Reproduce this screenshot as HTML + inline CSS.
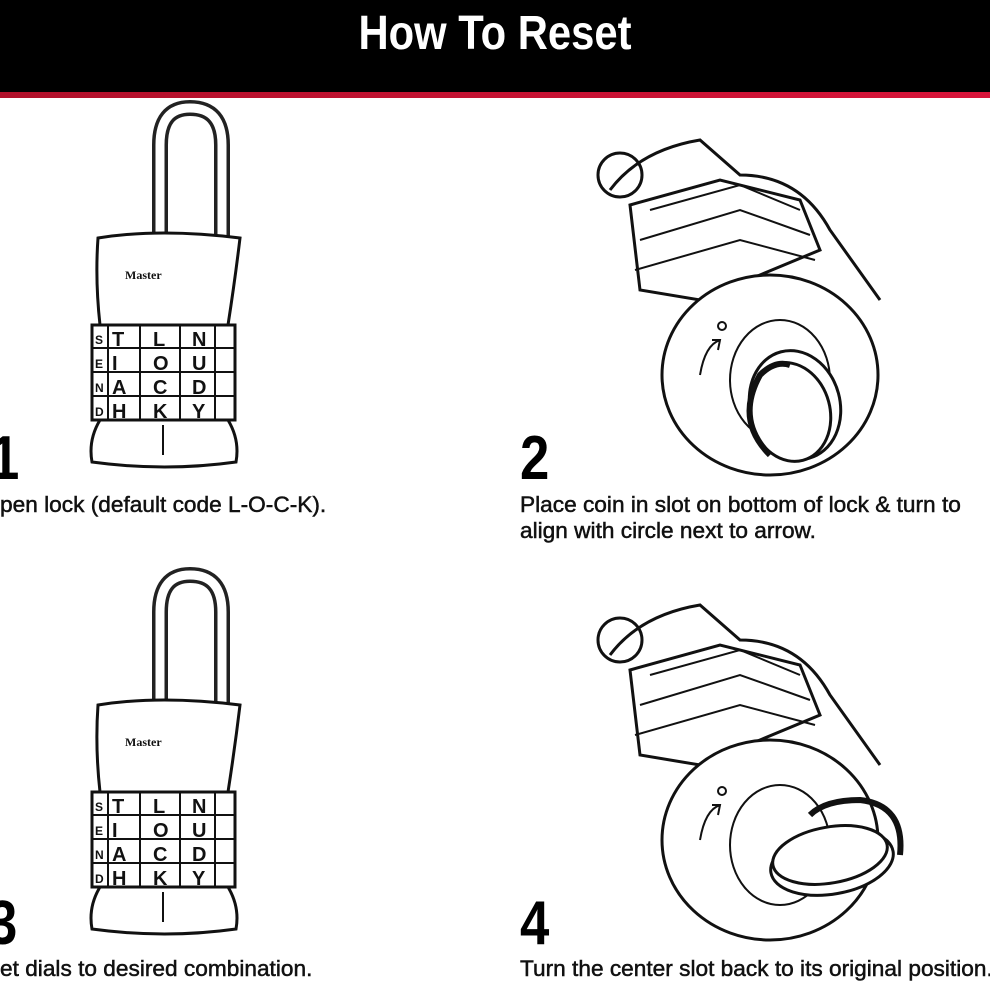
<!DOCTYPE html>
<html><head><meta charset="utf-8"><style>
body{margin:0;width:990px;height:990px;background:#fff;position:relative;overflow:hidden;font-family:"Liberation Sans",sans-serif}
.hd{position:absolute;left:0;top:0;width:990px;height:92px;background:#000}
.rl{position:absolute;left:0;top:92px;width:990px;height:6px;background:linear-gradient(90deg,#b0102a,#d8143a)}
.tt{position:absolute;top:6px;left:0;width:990px;text-align:center;color:#fff;font-weight:bold;font-size:48px;transform:scaleX(0.87)}
.n{position:absolute;font-weight:bold;font-size:62px;line-height:62px;transform:scaleX(0.85);transform-origin:left top}
.c{position:absolute;font-size:22px;line-height:26px;transform:scaleX(1.03);transform-origin:left top;white-space:nowrap;color:#111;-webkit-text-stroke:0.5px #111}
svg{position:absolute;left:0;top:0}
</style></head><body>
<div class="hd"></div><div class="rl"></div><div class="tt">How To Reset</div>
<svg width="990" height="990" fill="none" stroke="#111" stroke-width="3">
<g id="L">
<path d="M160 240 V145 Q160 108 190 108 Q222 108 222 145 V240" stroke-width="16" stroke="#222"/>
<path d="M160 240 V145 Q160 108 190 108 Q222 108 222 145 V240" stroke-width="9" stroke="#fff"/>
<path d="M98 238 Q160 228 240 238 Q235 280 228 325 L228 420 Q240 440 236 462 Q165 472 92 462 Q88 440 100 420 L100 325 Q95 280 98 238Z" fill="#fff"/>
<text x="125" y="279" font-size="12" font-weight="bold" fill="#111" stroke="none" font-family="Liberation Serif">Master</text>
<rect x="92" y="325" width="143" height="95" fill="#fff"/>
<g stroke-width="2"><line x1="92" y1="348" x2="235" y2="348"/><line x1="92" y1="372" x2="235" y2="372"/><line x1="92" y1="396" x2="235" y2="396"/>
<line x1="108" y1="325" x2="108" y2="420"/><line x1="140" y1="325" x2="140" y2="420"/><line x1="180" y1="325" x2="180" y2="420"/><line x1="215" y1="325" x2="215" y2="420"/></g>
<g fill="#111" stroke="none" font-size="20" font-weight="bold">
<text x="112" y="346">T</text><text x="112" y="370">I</text><text x="112" y="394">A</text><text x="112" y="418">H</text>
<text x="153" y="346">L</text><text x="153" y="370">O</text><text x="153" y="394">C</text><text x="153" y="418">K</text>
<text x="192" y="346">N</text><text x="192" y="370">U</text><text x="192" y="394">D</text><text x="192" y="418">Y</text>
<text x="95" y="344" font-size="12">S</text><text x="95" y="368" font-size="12">E</text><text x="95" y="392" font-size="12">N</text><text x="95" y="416" font-size="12">D</text></g>
<line x1="163" y1="425" x2="163" y2="455" stroke-width="2"/>
</g>
<use href="#L" y="467"/>
<g id="B">
<path d="M610 190 Q640 150 700 140 L740 175 Q800 175 830 230 L880 300" />
<circle cx="620" cy="175" r="22"/>
<path d="M630 205 L720 180 L800 200 L820 250 L700 300 L640 290 Z" fill="#fff"/>
<g stroke-width="2"><path d="M650 210 L740 185 L800 210"/><path d="M640 240 L740 210 L810 235"/><path d="M635 270 L740 240 L815 260"/></g>
<ellipse cx="770" cy="375" rx="108" ry="100" fill="#fff"/>
<ellipse cx="780" cy="380" rx="50" ry="60" stroke-width="2"/>
<path d="M700 375 Q705 345 720 340 M712 340 L720 340 L718 350" stroke-width="2"/>
<circle cx="722" cy="326" r="4" stroke-width="2"/>
</g>
<ellipse cx="795" cy="405" rx="45" ry="55" fill="#fff" transform="rotate(-15 795 405)"/>
<ellipse cx="790" cy="412" rx="40" ry="50" fill="#fff" transform="rotate(-15 790 412)"/>
<path d="M770 455 Q735 420 760 375 Q775 360 790 365" stroke-width="6"/>
<use href="#B" y="465"/>
<ellipse cx="832" cy="862" rx="62" ry="32" fill="#fff" transform="rotate(-10 832 862)"/>
<ellipse cx="830" cy="855" rx="58" ry="28" fill="#fff" transform="rotate(-10 830 855)"/>
<path d="M900 855 Q905 805 860 800 Q825 800 810 815" stroke-width="6"/>
</svg>
<div class="n" style="left:-10px;top:428px">1</div>
<div class="n" style="left:520px;top:428px">2</div>
<div class="n" style="left:-12px;top:893px">3</div>
<div class="n" style="left:520px;top:893px">4</div>
<div class="c" style="left:0;top:492px">pen lock (default code L-O-C-K).</div>
<div class="c" style="left:520px;top:492px">Place coin in slot on bottom of lock &amp; turn to<br>align with circle next to arrow.</div>
<div class="c" style="left:0;top:956px">et dials to desired combination.</div>
<div class="c" style="left:520px;top:956px">Turn the center slot back to its original position.</div>
</body></html>
